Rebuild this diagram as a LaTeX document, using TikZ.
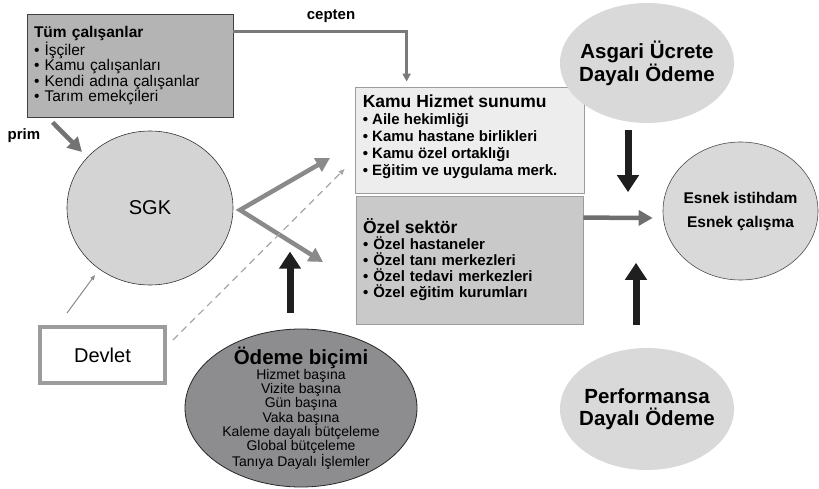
\documentclass[tikz,border=0pt]{standalone}
\usepackage{fontspec}
\setmainfont{Liberation Sans}
\usepackage{xcolor}
\usepackage{tikz}
\usetikzlibrary{shapes,arrows,arrows.meta,positioning,fit,calc}

\definecolor{boxdark}{HTML}{B4B4B4}
\definecolor{boxlight}{HTML}{EDEDED}
\definecolor{boxmid}{HTML}{C9C9C9}
\definecolor{sgkgray}{HTML}{D4D4D4}
\definecolor{ovallight}{HTML}{D9D9D9}
\definecolor{ovaldark}{HTML}{8D8D8F}
\definecolor{linegray}{HTML}{8A8A8A}
\definecolor{framegray}{HTML}{9C9C9C}

\begin{document}
\begin{tikzpicture}[
    x=1pt, y=-1pt,
    listbox/.style={rectangle, draw=framegray, line width=0.8pt, align=left, inner xsep=7pt, inner ysep=0pt},
    oval/.style={ellipse, inner sep=0pt},
    tag/.style={font=\fontsize{15}{15}\selectfont\bfseries},
    grayarrow/.style={->, >={Triangle[length=14pt,width=15pt]}, line width=4.5pt, draw=linegray},
    fatarrow/.style={-{Triangle[length=17pt,width=21pt]}, line width=7pt, draw=black!88},
    thinarrow/.style={-{Triangle[length=5pt,width=4pt]}, line width=1pt, draw=linegray}
]
\useasboundingbox (0,0) rectangle (819,489);

% Contributors
\node[listbox, fill=boxdark, draw=black!75, text width=192pt, minimum height=103pt,
      font=\fontsize{15.5}{15.5}\selectfont] (tum) at (130,65.5)
  {{\bfseries Tüm çalışanlar}\\• İşçiler\\• Kamu çalışanları\\• Kendi adına çalışanlar\\• Tarım emekçileri};

\node[tag] (cepten) at (331,16) {cepten};
\node[tag] (prim) at (24,136) {prim};

% SGK and state
\node[oval, fill=sgkgray, draw=black!80, line width=0.6pt, minimum width=166pt, minimum height=154pt,
      font=\fontsize{20}{20}\selectfont] (sgk) at (150,208) {SGK};
\node[rectangle, draw=framegray, line width=4pt, fill=white, minimum width=125pt, minimum height=56pt,
      font=\fontsize{20}{20}\selectfont] (devlet) at (102.5,355) {Devlet};

% Providers
\node[listbox, fill=boxlight, minimum width=229pt, minimum height=106pt] (kamu) at (469.5,140) {};
\node[anchor=north west, inner sep=0pt, align=left, font=\fontsize{15}{17}\selectfont\bfseries]
  (kamutext) at ($(kamu.north west)+(8,8)$)
  {{\fontsize{17.5}{17}\selectfont Kamu Hizmet sunumu}\\• Aile hekimliği\\• Kamu hastane birlikleri\\• Kamu özel ortaklığı\\• Eğitim ve uygulama merk.};
\node[listbox, fill=boxmid, text width=213pt, minimum height=128pt,
      font=\fontsize{15}{16}\selectfont\bfseries] (ozel) at (469.5,260)
  {{\fontsize{17.5}{17}\selectfont Özel sektör}\\• Özel hastaneler\\• Özel tanı merkezleri\\• Özel tedavi merkezleri\\• Özel eğitim kurumları};

% Payment
\node[oval, fill=ovaldark, draw=black!85, line width=0.8pt, minimum width=232pt, minimum height=158pt] (odeme) at (301,408) {};
\node[align=center, font=\fontsize{14}{14.2}\selectfont] (odemetext) at (odeme)
  {{\fontsize{20.5}{16}\selectfont\bfseries Ödeme biçimi}\\Hizmet başına\\Vizite başına\\Gün başına\\Vaka başına\\Kaleme dayalı bütçeleme\\Global bütçeleme\\Tanıya Dayalı İşlemler};

% Right side
\node[oval, fill=ovallight, minimum width=174pt, minimum height=120pt] (asgari) at (647,63) {};
\node[align=center, font=\fontsize{20.5}{21}\selectfont\bfseries] (asgaritext) at (asgari) {Asgari Ücrete\\Dayalı Ödeme};
\node[oval, fill=ovallight, draw=black!70, line width=0.6pt, minimum width=155pt, minimum height=138pt] (esnek) at (740.5,211) {};
\node[align=center, font=\fontsize{15.5}{24}\selectfont\bfseries] (esnektext) at (esnek) {Esnek istihdam\\Esnek çalışma};
\node[oval, fill=ovallight, minimum width=174pt, minimum height=122pt] (perf) at (647,409) {};
\node[align=center, font=\fontsize{20.5}{22}\selectfont\bfseries] (perftext) at (perf) {Performansa\\Dayalı Ödeme};

% Free ends
\coordinate (primend) at (82,152);
\coordinate (vtx) at (240,210);
\coordinate (vup) at (330,158);
\coordinate (vdown) at (323,262);

% Arrows
\draw[line width=2.5pt, draw=black!52, -{Triangle[length=8pt,width=8pt]}]
  ($(tum.north east)+(0,18)$) -| ($(kamu.north west)+(52,-5)$);
\draw[grayarrow, draw=black!55] ($(tum.south west)+(26,5)$) -- (primend);
\draw[grayarrow, <->] (vup) -- (vtx) -- (vdown);
\draw[thinarrow] ($(devlet.north west)+(29,-12)$) -- ($(sgk.center)+(-55,67)$);
\draw[dashed, dash pattern=on 7pt off 5pt, draw=black!35, line width=1.2pt, -{Triangle[length=6pt,width=5pt]}]
  ($(devlet.east)+(6,-15)$) -- ($(kamu.west)+(-10,29)$);
\draw[fatarrow] ($(odeme.north)+(-11,-16)$) -- ($(odeme.north)+(-11,-77)$);
\draw[fatarrow] ($(asgari.south)+(-19,7)$) -- ($(asgari.south)+(-19,69)$);
\draw[fatarrow] ($(perf.north)+(-11,-23)$) -- ($(perf.north)+(-11,-85)$);
\draw[grayarrow, draw=black!57] ($(ozel.north east)+(0,22)$) -- ($(esnek.west)+(-10,7)$);

\end{tikzpicture}
\end{document}
